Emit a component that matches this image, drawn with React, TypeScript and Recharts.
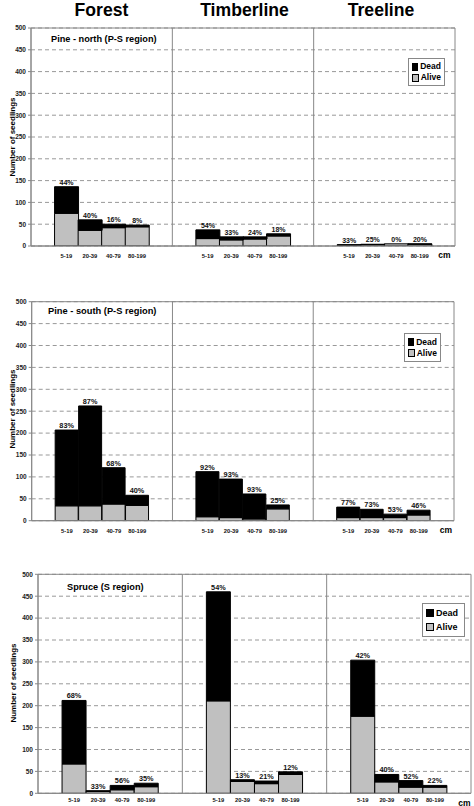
import React from 'react';
import {
  BarChart,
  Bar,
  XAxis,
  YAxis,
  CartesianGrid,
  ReferenceLine,
  ReferenceArea,
  LabelList,
  Legend,
} from 'recharts';

const FONT = '"Liberation Sans", Arial, Helvetica, sans-serif';

const sites = ['Forest', 'Timberline', 'Treeline'];
const sizeClasses = ['5-19', '20-39', '40-79', '80-199'];
const yTicks = [0, 50, 100, 150, 200, 250, 300, 350, 400, 450, 500];

// Pine - north (P-S region)
const pineNorthAlive = [75, 36, 42, 44, 17, 14, 16, 23, 2, 3, 5, 4];
const pineNorthDead = [61, 24, 8, 4, 20, 7, 5, 5, 1, 1, 0, 1];
const pineNorthPct = ['44%', '40%', '16%', '8%', '54%', '33%', '24%', '18%', '33%', '25%', '0%', '20%'];

// Pine - south (P-S region)
const pineSouthAlive = [34, 34, 38, 35, 9, 7, 4, 27, 7, 7, 7, 13];
const pineSouthDead = [173, 228, 83, 23, 103, 88, 57, 9, 24, 19, 8, 11];
const pineSouthPct = ['83%', '87%', '68%', '40%', '92%', '93%', '93%', '25%', '77%', '73%', '53%', '46%'];

// Spruce (S region)
const spruceAlive = [67, 4, 8, 15, 211, 27, 22, 43, 176, 26, 14, 14];
const spruceDead = [145, 2, 10, 8, 249, 4, 6, 6, 128, 17, 15, 4];
const sprucePct = ['68%', '33%', '56%', '35%', '54%', '13%', '21%', '12%', '42%', '40%', '52%', '22%'];

type Row = {
  key: string;
  label: string;
  alive?: number;
  dead?: number;
  deadLabel?: string;
  aliveLabel?: string;
};

function buildRows(alive: number[], dead: number[], pct: string[]): Row[] {
  const rows: Row[] = [];
  sites.forEach((site, s) => {
    rows.push({ key: `${site}|pre`, label: '' });
    sizeClasses.forEach((cls, i) => {
      const k = s * 4 + i;
      rows.push({
        key: `${site}|${cls}`,
        label: cls,
        alive: alive[k],
        dead: dead[k],
        deadLabel: dead[k] > 0 ? pct[k] : undefined,
        aliveLabel: dead[k] > 0 ? undefined : pct[k],
      });
    });
    rows.push({ key: `${site}|post`, label: '' });
  });
  return rows;
}

const LegendBox = (props: any) => {
  const { payload, fontSize, rowH } = props;
  const items = [...(payload || [])].reverse();
  return (
    <div
      style={{
        border: '1px solid #888',
        background: '#fff',
        padding: '2px 3px',
        fontFamily: FONT,
        fontWeight: 700,
        fontSize,
        color: '#000',
        boxSizing: 'border-box',
        height: '100%',
        display: 'flex',
        flexDirection: 'column',
        justifyContent: 'center',
      }}
    >
      {items.map((p: any) => (
        <div key={p.value} style={{ display: 'flex', alignItems: 'center', height: rowH, lineHeight: 1 }}>
          <span
            style={{
              display: 'inline-block',
              width: 6,
              height: 6,
              background: p.color,
              border: '1px solid #000',
              marginRight: 2,
            }}
          />
          {p.value}
        </div>
      ))}
    </div>
  );
};

type PanelProps = {
  rows: Row[];
  top: number;
  height: number;
  margin: { top: number; right: number; bottom: number; left: number };
  yWidth: number;
  xHeight: number;
  xTickSize: number;
  pctSize: number;
  legend: { left: number; top: number; width: number; height: number; fontSize: number; rowH: number };
};

const Panel = ({ rows, top, height, margin, yWidth, xHeight, xTickSize, pctSize, legend }: PanelProps) => {
  const labelOf = new Map(rows.map((r) => [r.key, r.label]));
  const pctStyle = { fontSize: pctSize, fontWeight: 700, fill: '#111', fontFamily: FONT };
  return (
    <div style={{ position: 'absolute', left: 0, top, width: 474, height }}>
      <BarChart width={474} height={height} data={rows} margin={margin} barCategoryGap={0} barGap={0}>
        <CartesianGrid vertical={false} stroke="#999" strokeDasharray="4 3" />
        <XAxis
          dataKey="key"
          interval={0}
          tickLine={false}
          tickSize={xTickSize}
          axisLine={{ stroke: '#888' }}
          height={xHeight}
          tick={{ fontSize: 5.8, fontWeight: 700, fill: '#111', fontFamily: FONT }}
          tickFormatter={(v: string) => labelOf.get(v) || ''}
        />
        <YAxis
          domain={[0, 500]}
          ticks={yTicks}
          interval={0}
          width={yWidth}
          tickSize={3}
          allowDataOverflow
          axisLine={{ stroke: '#888' }}
          tickLine={{ stroke: '#888' }}
          tick={{ fontSize: 6.5, fontWeight: 700, fill: '#222', fontFamily: FONT }}
        />
        <ReferenceArea y1={0} y2={500} fill="none" fillOpacity={0} stroke="#888" ifOverflow="visible" />
        <ReferenceLine x={`${sites[0]}|post`} position="end" stroke="#888" />
        <ReferenceLine x={`${sites[1]}|post`} position="end" stroke="#888" />
        <Legend
          layout="horizontal"
          verticalAlign="middle"
          align="center"
          content={<LegendBox fontSize={legend.fontSize} rowH={legend.rowH} />}
          wrapperStyle={{ left: legend.left, top: legend.top, width: legend.width, height: legend.height }}
        />
        <Bar
          dataKey="alive"
          name="Alive"
          stackId="s"
          fill="#c0c0c0"
          stroke="#000"
          strokeWidth={1}
          legendType="square"
          isAnimationActive={false}
        >
          <LabelList dataKey="aliveLabel" position="top" offset={2} style={pctStyle} />
        </Bar>
        <Bar
          dataKey="dead"
          name="Dead"
          stackId="s"
          fill="#000"
          stroke="#000"
          strokeWidth={1}
          legendType="square"
          isAnimationActive={false}
        >
          <LabelList dataKey="deadLabel" position="top" offset={2} style={pctStyle} />
        </Bar>
      </BarChart>
    </div>
  );
};

const northRows = buildRows(pineNorthAlive, pineNorthDead, pineNorthPct);
const southRows = buildRows(pineSouthAlive, pineSouthDead, pineSouthPct);
const spruceRows = buildRows(spruceAlive, spruceDead, sprucePct);

export default function App() {
  const bold = { fontFamily: FONT, fontWeight: 700, fill: '#000' } as const;
  return (
    <div style={{ position: 'absolute', left: 0, top: 0, width: 474, height: 806, background: '#fff', overflow: 'hidden' }}>
      <Panel
        rows={northRows}
        top={0}
        height={270}
        margin={{ top: 28, right: 19, bottom: 10, left: 0 }}
        yWidth={31}
        xHeight={14}
        xTickSize={6}
        pctSize={7}
        legend={{ left: 408, top: 58, width: 37, height: 28, fontSize: 8.5, rowH: 12 }}
      />
      <Panel
        rows={southRows}
        top={275}
        height={270}
        margin={{ top: 26.7, right: 20, bottom: 10.3, left: 0 }}
        yWidth={31.7}
        xHeight={14}
        xTickSize={6}
        pctSize={7.3}
        legend={{ left: 404, top: 58, width: 37, height: 29, fontSize: 8.5, rowH: 12 }}
      />
      <Panel
        rows={spruceRows}
        top={560}
        height={246}
        margin={{ top: 14.3, right: 3, bottom: 0, left: 0 }}
        yWidth={38}
        xHeight={12.7}
        xTickSize={3}
        pctSize={7.3}
        legend={{ left: 422, top: 43, width: 43, height: 34, fontSize: 9, rowH: 14 }}
      />
      <svg
        width={474}
        height={806}
        style={{ position: 'absolute', left: 0, top: 0, pointerEvents: 'none' }}
      >
        <text x={101.5} y={15.5} textAnchor="middle" fontSize={17.6} {...bold}>
          {sites[0]}
        </text>
        <text x={244.5} y={15.5} textAnchor="middle" fontSize={17.6} {...bold}>
          {sites[1]}
        </text>
        <text x={381} y={15.5} textAnchor="middle" fontSize={17.6} {...bold}>
          {sites[2]}
        </text>

        <text x={51} y={42} fontSize={9.2} {...bold}>Pine - north (P-S region)</text>
        <text x={48} y={314} fontSize={9.3} {...bold}>Pine - south (P-S region)</text>
        <text x={67} y={590} fontSize={9.2} {...bold}>Spruce (S region)</text>

        <text transform="translate(14.5,137) rotate(-90)" textAnchor="middle" fontSize={8} {...bold}>
          Number of seedlings
        </text>
        <text transform="translate(14.5,409) rotate(-90)" textAnchor="middle" fontSize={8} {...bold}>
          Number of seedlings
        </text>
        <text transform="translate(15.5,683) rotate(-90)" textAnchor="middle" fontSize={8} {...bold}>
          Number of seedlings
        </text>

        <text x={444.5} y={258} textAnchor="middle" fontSize={8.5} {...bold}>cm</text>
        <text x={446} y={533} textAnchor="middle" fontSize={8.5} {...bold}>cm</text>
        <text x={464.5} y={805.5} textAnchor="middle" fontSize={8.5} {...bold}>cm</text>
      </svg>
    </div>
  );
}
